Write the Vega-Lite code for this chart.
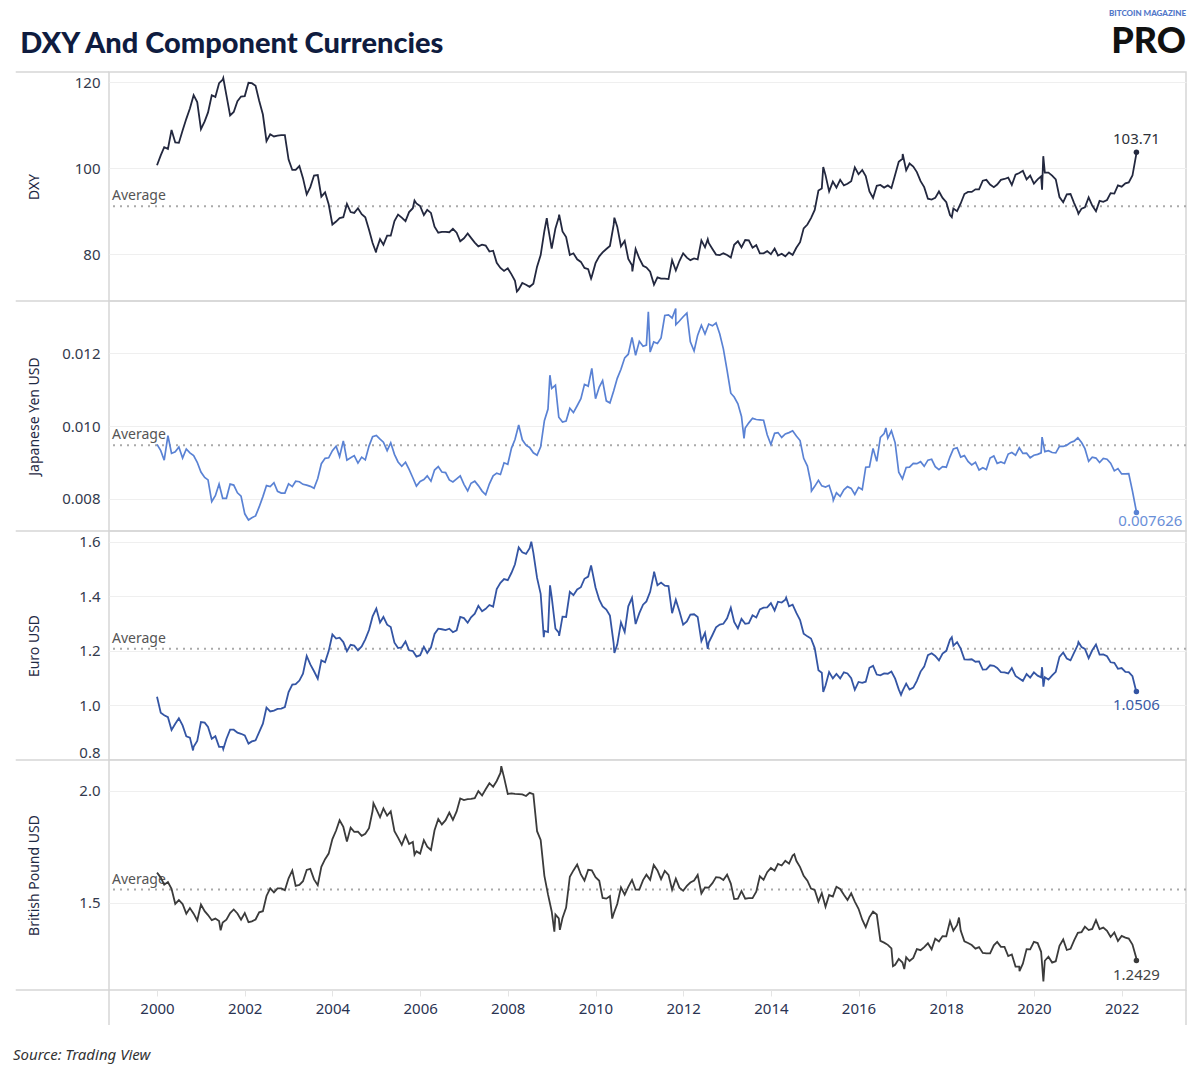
{
  "$schema": "https://vega.github.io/schema/vega-lite/v6.json",
  "background": "white",
  "padding": {"left": 12, "top": 9, "right": 15, "bottom": 10},
  "title": {"text": "DXY And Component Currencies", "anchor": "start", "frame": "bounds", "font": "Lato", "fontSize": 29, "fontWeight": 900, "color": "#0f1c3f", "dx": 8, "dy": 59, "offset": 10},
  "config": {
    "view": {"stroke": "#d6d6d6", "strokeWidth": 1.5},
    "axis": {"labelFont": "Noto Sans", "labelFontSize": 15, "labelColor": "#333a4d", "titleFont": "Noto Sans", "titleFontSize": 14, "titleFontWeight": "normal", "titleColor": "#1f2a44", "gridColor": "#efefef", "gridWidth": 1, "domain": false, "ticks": false},
    "text": {"font": "Noto Sans"}
  },
  "datasets": {
    "dxy": [
      {"d":"2000-01","v":100.7},{"d":"2000-02","v":103.0},{"d":"2000-03","v":104.9},{"d":"2000-04","v":104.5},{"d":"2000-05","v":108.9},{"d":"2000-06","v":106.0},{"d":"2000-07","v":105.9},{"d":"2000-08","v":108.8},{"d":"2000-09","v":111.5},{"d":"2000-10","v":113.9},{"d":"2000-11","v":117.0},{"d":"2000-12","v":115.4},
      {"d":"2001-01","v":109.1},{"d":"2001-02","v":110.9},{"d":"2001-03","v":113.0},{"d":"2001-04","v":117.0},{"d":"2001-05","v":116.6},{"d":"2001-06","v":119.8},{"d":"2001-07","v":120.6},{"d":"2001-07-06","v":121.0},{"d":"2001-08","v":117.0},{"d":"2001-09","v":112.3},{"d":"2001-10","v":113.1},{"d":"2001-11","v":115.6},{"d":"2001-12","v":116.7},
      {"d":"2002-01","v":116.8},{"d":"2002-02","v":119.9},{"d":"2002-03","v":119.8},{"d":"2002-04","v":119.2},{"d":"2002-05","v":115.7},{"d":"2002-06","v":112.5},{"d":"2002-07","v":106.3},{"d":"2002-08","v":107.9},{"d":"2002-09","v":107.4},{"d":"2002-10","v":107.6},{"d":"2002-11","v":107.7},{"d":"2002-12","v":107.7},
      {"d":"2003-01","v":102.0},{"d":"2003-02","v":99.6},{"d":"2003-03","v":99.6},{"d":"2003-04","v":100.5},{"d":"2003-05","v":97.7},{"d":"2003-06","v":93.9},{"d":"2003-07","v":95.6},{"d":"2003-08","v":98.3},{"d":"2003-09","v":98.4},{"d":"2003-10","v":93.4},{"d":"2003-11","v":94.4},{"d":"2003-12","v":91.6},
      {"d":"2004-01","v":86.9},{"d":"2004-02","v":87.6},{"d":"2004-03","v":88.4},{"d":"2004-04","v":88.6},{"d":"2004-05","v":91.7},{"d":"2004-06","v":89.8},{"d":"2004-07","v":89.6},{"d":"2004-08","v":90.7},{"d":"2004-09","v":89.3},{"d":"2004-10","v":88.6},{"d":"2004-11","v":85.7},{"d":"2004-12","v":82.6},{"d":"2004-12-30","v":80.4},
      {"d":"2005-01","v":80.9},{"d":"2005-02","v":83.5},{"d":"2005-03","v":82.2},{"d":"2005-04","v":84.3},{"d":"2005-05","v":84.3},{"d":"2005-06","v":87.7},{"d":"2005-07","v":89.2},{"d":"2005-08","v":88.5},{"d":"2005-09","v":87.7},{"d":"2005-10","v":89.8},{"d":"2005-11","v":90.7},{"d":"2005-11-15","v":92.5},{"d":"2005-12","v":91.8},
      {"d":"2006-01","v":91.2},{"d":"2006-02","v":89.1},{"d":"2006-03","v":90.3},{"d":"2006-04","v":89.6},{"d":"2006-05","v":86.4},{"d":"2006-06","v":85.0},{"d":"2006-07","v":85.2},{"d":"2006-08","v":85.2},{"d":"2006-09","v":85.1},{"d":"2006-10","v":85.9},{"d":"2006-11","v":85.0},{"d":"2006-12","v":83.0},
      {"d":"2007-01","v":83.7},{"d":"2007-02","v":84.8},{"d":"2007-03","v":83.8},{"d":"2007-04","v":82.7},{"d":"2007-05","v":81.8},{"d":"2007-06","v":82.2},{"d":"2007-07","v":82.0},{"d":"2007-08","v":80.6},{"d":"2007-09","v":80.8},{"d":"2007-10","v":78.0},{"d":"2007-11","v":76.8},{"d":"2007-12","v":76.1},
      {"d":"2008-01","v":76.7},{"d":"2008-02","v":75.3},{"d":"2008-03","v":73.8},{"d":"2008-03-17","v":71.3},{"d":"2008-04","v":71.8},{"d":"2008-05","v":73.3},{"d":"2008-06","v":72.9},{"d":"2008-07","v":72.4},{"d":"2008-08","v":73.1},{"d":"2008-09","v":77.1},{"d":"2008-10","v":79.8},{"d":"2008-11","v":85.4},{"d":"2008-11-21","v":88.4},{"d":"2008-12","v":86.4},
      {"d":"2009-01","v":81.3},{"d":"2009-02","v":86.0},{"d":"2009-03","v":88.6},{"d":"2009-03-04","v":89.2},{"d":"2009-04","v":85.3},{"d":"2009-05","v":84.0},{"d":"2009-06","v":79.8},{"d":"2009-07","v":80.2},{"d":"2009-08","v":78.8},{"d":"2009-09","v":78.2},{"d":"2009-10","v":76.8},{"d":"2009-11","v":76.5},{"d":"2009-11-25","v":74.3},{"d":"2009-12","v":74.8},
      {"d":"2010-01","v":77.9},{"d":"2010-02","v":79.5},{"d":"2010-03","v":80.4},{"d":"2010-04","v":81.2},{"d":"2010-05","v":81.9},{"d":"2010-06","v":86.8},{"d":"2010-06-07","v":88.5},{"d":"2010-07","v":86.4},{"d":"2010-08","v":81.8},{"d":"2010-09","v":83.1},{"d":"2010-10","v":78.9},{"d":"2010-11","v":77.4},{"d":"2010-11-04","v":76.0},{"d":"2010-12","v":81.2},
      {"d":"2011-01","v":79.0},{"d":"2011-02","v":77.3},{"d":"2011-03","v":76.9},{"d":"2011-04","v":75.9},{"d":"2011-05","v":73.1},{"d":"2011-05-03","v":72.9},{"d":"2011-06","v":74.6},{"d":"2011-07","v":74.3},{"d":"2011-08","v":74.3},{"d":"2011-09","v":74.2},{"d":"2011-10","v":78.6},{"d":"2011-11","v":76.2},{"d":"2011-12","v":78.4},
      {"d":"2012-01","v":80.2},{"d":"2012-02","v":79.2},{"d":"2012-03","v":78.6},{"d":"2012-04","v":79.0},{"d":"2012-05","v":78.8},{"d":"2012-06","v":83.2},{"d":"2012-07","v":81.6},{"d":"2012-07-24","v":83.5},{"d":"2012-08","v":82.6},{"d":"2012-09","v":81.2},{"d":"2012-10","v":79.9},{"d":"2012-11","v":79.8},{"d":"2012-12","v":80.2},
      {"d":"2013-01","v":79.8},{"d":"2013-02","v":79.2},{"d":"2013-03","v":82.2},{"d":"2013-04","v":83.0},{"d":"2013-05","v":81.6},{"d":"2013-06","v":83.3},{"d":"2013-07","v":83.2},{"d":"2013-08","v":81.5},{"d":"2013-09","v":82.1},{"d":"2013-10","v":80.2},{"d":"2013-11","v":80.2},{"d":"2013-12","v":80.7},
      {"d":"2014-01","v":80.0},{"d":"2014-02","v":81.3},{"d":"2014-03","v":79.7},{"d":"2014-04","v":80.1},{"d":"2014-05","v":79.5},{"d":"2014-06","v":80.4},{"d":"2014-07","v":79.8},{"d":"2014-08","v":81.5},{"d":"2014-09","v":82.8},{"d":"2014-10","v":86.0},{"d":"2014-11","v":86.9},{"d":"2014-12","v":88.4},
      {"d":"2015-01","v":90.3},{"d":"2015-02","v":94.8},{"d":"2015-03","v":95.3},{"d":"2015-03-13","v":100.3},{"d":"2015-04","v":98.4},{"d":"2015-05","v":94.6},{"d":"2015-06","v":96.9},{"d":"2015-07","v":95.5},{"d":"2015-08","v":97.3},{"d":"2015-09","v":96.0},{"d":"2015-10","v":96.4},{"d":"2015-11","v":97.0},{"d":"2015-12","v":100.2},
      {"d":"2016-01","v":98.6},{"d":"2016-02","v":99.6},{"d":"2016-03","v":98.2},{"d":"2016-04","v":94.6},{"d":"2016-05","v":93.1},{"d":"2016-06","v":95.9},{"d":"2016-07","v":96.1},{"d":"2016-08","v":95.5},{"d":"2016-09","v":96.0},{"d":"2016-10","v":95.4},{"d":"2016-11","v":98.5},{"d":"2016-12","v":101.5},
      {"d":"2017-01","v":102.2},{"d":"2017-01-03","v":103.3},{"d":"2017-02","v":99.5},{"d":"2017-03","v":101.1},{"d":"2017-04","v":100.4},{"d":"2017-05","v":99.1},{"d":"2017-06","v":97.0},{"d":"2017-07","v":95.6},{"d":"2017-08","v":92.9},{"d":"2017-09","v":92.7},{"d":"2017-10","v":93.1},{"d":"2017-11","v":94.6},{"d":"2017-12","v":93.1},
      {"d":"2018-01","v":92.1},{"d":"2018-02","v":89.1},{"d":"2018-02-16","v":88.6},{"d":"2018-03","v":90.6},{"d":"2018-04","v":90.0},{"d":"2018-05","v":91.8},{"d":"2018-06","v":94.0},{"d":"2018-07","v":94.5},{"d":"2018-08","v":94.5},{"d":"2018-09","v":95.1},{"d":"2018-10","v":95.1},{"d":"2018-11","v":97.1},{"d":"2018-12","v":97.3},
      {"d":"2019-01","v":96.2},{"d":"2019-02","v":95.6},{"d":"2019-03","v":96.2},{"d":"2019-04","v":97.3},{"d":"2019-05","v":97.5},{"d":"2019-06","v":97.8},{"d":"2019-07","v":96.1},{"d":"2019-08","v":98.5},{"d":"2019-09","v":98.9},{"d":"2019-10","v":99.4},{"d":"2019-11","v":97.4},{"d":"2019-12","v":98.3},
      {"d":"2020-01","v":96.4},{"d":"2020-02","v":97.4},{"d":"2020-03","v":98.1},{"d":"2020-03-09","v":95.0},{"d":"2020-03-19","v":102.8},{"d":"2020-04","v":99.0},{"d":"2020-05","v":99.0},{"d":"2020-06","v":98.3},{"d":"2020-07","v":97.4},{"d":"2020-08","v":93.3},{"d":"2020-09","v":92.1},{"d":"2020-10","v":93.9},{"d":"2020-11","v":94.0},{"d":"2020-12","v":91.9},
      {"d":"2021-01","v":89.9},{"d":"2021-01-06","v":89.4},{"d":"2021-02","v":90.6},{"d":"2021-03","v":90.9},{"d":"2021-04","v":93.2},{"d":"2021-05","v":91.3},{"d":"2021-06","v":90.0},{"d":"2021-07","v":92.4},{"d":"2021-08","v":92.2},{"d":"2021-09","v":92.6},{"d":"2021-10","v":94.2},{"d":"2021-11","v":94.1},{"d":"2021-12","v":96.0},
      {"d":"2022-01","v":95.7},{"d":"2022-02","v":96.5},{"d":"2022-03","v":96.7},{"d":"2022-04","v":98.3},{"d":"2022-05","v":103.0},{"d":"2022-05-04","v":103.71}
    ],
    "jpy": [
      {"d":"2000-01","v":0.009500},{"d":"2000-02","v":0.009328},{"d":"2000-03","v":0.009066},{"d":"2000-04","v":0.009737},{"d":"2000-05","v":0.009251},{"d":"2000-06","v":0.009294},{"d":"2000-07","v":0.009425},{"d":"2000-08","v":0.009124},{"d":"2000-09","v":0.009372},{"d":"2000-10","v":0.009268},{"d":"2000-11","v":0.009191},{"d":"2000-12","v":0.009009},
      {"d":"2001-01","v":0.008741},{"d":"2001-02","v":0.008591},{"d":"2001-03","v":0.008525},{"d":"2001-04","v":0.007930},{"d":"2001-05","v":0.008091},{"d":"2001-06","v":0.008410},{"d":"2001-07","v":0.008019},{"d":"2001-08","v":0.008019},{"d":"2001-09","v":0.008410},{"d":"2001-10","v":0.008382},{"d":"2001-11","v":0.008170},{"d":"2001-12","v":0.008078},
      {"d":"2002-01","v":0.007593},{"d":"2002-02","v":0.007424},{"d":"2002-03","v":0.007485},{"d":"2002-04","v":0.007536},{"d":"2002-05","v":0.007782},{"d":"2002-06","v":0.008065},{"d":"2002-07","v":0.008368},{"d":"2002-08","v":0.008340},{"d":"2002-09","v":0.008446},{"d":"2002-10","v":0.008210},{"d":"2002-11","v":0.008163},{"d":"2002-12","v":0.008163},
      {"d":"2003-01","v":0.008418},{"d":"2003-02","v":0.008340},{"d":"2003-03","v":0.008489},{"d":"2003-04","v":0.008475},{"d":"2003-05","v":0.008403},{"d":"2003-06","v":0.008382},{"d":"2003-07","v":0.008347},{"d":"2003-08","v":0.008292},{"d":"2003-09","v":0.008562},{"d":"2003-10","v":0.008969},{"d":"2003-11","v":0.009116},{"d":"2003-12","v":0.009132},
      {"d":"2004-01","v":0.009328},{"d":"2004-02","v":0.009452},{"d":"2004-03","v":0.009166},{"d":"2004-04","v":0.009597},{"d":"2004-05","v":0.009066},{"d":"2004-06","v":0.009132},{"d":"2004-07","v":0.009191},{"d":"2004-08","v":0.008985},{"d":"2004-09","v":0.009149},{"d":"2004-10","v":0.009074},{"d":"2004-11","v":0.009452},{"d":"2004-12","v":0.009709},
      {"d":"2005-01","v":0.009747},{"d":"2005-02","v":0.009643},{"d":"2005-03","v":0.009560},{"d":"2005-04","v":0.009328},{"d":"2005-05","v":0.009542},{"d":"2005-06","v":0.009225},{"d":"2005-07","v":0.009017},{"d":"2005-08","v":0.008897},{"d":"2005-09","v":0.009009},{"d":"2005-10","v":0.008811},{"d":"2005-11","v":0.008584},{"d":"2005-12","v":0.008354},
      {"d":"2006-01","v":0.008482},{"d":"2006-02","v":0.008532},{"d":"2006-03","v":0.008636},{"d":"2006-04","v":0.008489},{"d":"2006-05","v":0.008795},{"d":"2006-06","v":0.008889},{"d":"2006-07","v":0.008741},{"d":"2006-08","v":0.008726},{"d":"2006-09","v":0.008525},{"d":"2006-10","v":0.008467},{"d":"2006-11","v":0.008554},{"d":"2006-12","v":0.008636},
      {"d":"2007-01","v":0.008403},{"d":"2007-02","v":0.008224},{"d":"2007-03","v":0.008432},{"d":"2007-04","v":0.008489},{"d":"2007-05","v":0.008368},{"d":"2007-06","v":0.008217},{"d":"2007-07","v":0.008117},{"d":"2007-08","v":0.008418},{"d":"2007-09","v":0.008636},{"d":"2007-10","v":0.008711},{"d":"2007-11","v":0.008673},{"d":"2007-12","v":0.008993},
      {"d":"2008-01","v":0.008953},{"d":"2008-02","v":0.009398},{"d":"2008-03","v":0.009634},{"d":"2008-04","v":0.010030},{"d":"2008-05","v":0.009625},{"d":"2008-06","v":0.009479},{"d":"2008-07","v":0.009416},{"d":"2008-08","v":0.009268},{"d":"2008-09","v":0.009200},{"d":"2008-10","v":0.009434},{"d":"2008-11","v":0.010152},{"d":"2008-12","v":0.010471},{"d":"2008-12-17","v":0.011400},
      {"d":"2009-01","v":0.011038},{"d":"2009-02","v":0.011123},{"d":"2009-03","v":0.010246},{"d":"2009-04","v":0.010111},{"d":"2009-05","v":0.010142},{"d":"2009-06","v":0.010493},{"d":"2009-07","v":0.010373},{"d":"2009-08","v":0.010560},{"d":"2009-09","v":0.010753},{"d":"2009-10","v":0.011148},{"d":"2009-11","v":0.011099},{"d":"2009-12","v":0.011587},
      {"d":"2010-01","v":0.010753},{"d":"2010-02","v":0.011074},{"d":"2010-03","v":0.011249},{"d":"2010-04","v":0.010695},{"d":"2010-05","v":0.010638},{"d":"2010-06","v":0.010965},{"d":"2010-07","v":0.011312},{"d":"2010-08","v":0.011561},{"d":"2010-09","v":0.011876},{"d":"2010-10","v":0.011976},{"d":"2010-11","v":0.012438},{"d":"2010-12","v":0.011947},
      {"d":"2011-01","v":0.012330},{"d":"2011-02","v":0.012195},{"d":"2011-03","v":0.012225},{"d":"2011-03-17","v":0.013140},{"d":"2011-04","v":0.012034},{"d":"2011-05","v":0.012315},{"d":"2011-06","v":0.012270},{"d":"2011-07","v":0.012422},{"d":"2011-08","v":0.013038},{"d":"2011-09","v":0.013055},{"d":"2011-10","v":0.012970},{"d":"2011-10-31","v":0.013230},{"d":"2011-11","v":0.012788},{"d":"2011-12","v":0.012887},
      {"d":"2012-01","v":0.013004},{"d":"2012-02","v":0.013106},{"d":"2012-03","v":0.012315},{"d":"2012-04","v":0.012063},{"d":"2012-05","v":0.012500},{"d":"2012-06","v":0.012771},{"d":"2012-07","v":0.012531},{"d":"2012-08","v":0.012804},{"d":"2012-09","v":0.012755},{"d":"2012-10","v":0.012837},{"d":"2012-11","v":0.012531},{"d":"2012-12","v":0.012121},
      {"d":"2013-01","v":0.011534},{"d":"2013-02","v":0.010905},{"d":"2013-03","v":0.010799},{"d":"2013-04","v":0.010616},{"d":"2013-05","v":0.010267},{"d":"2013-05-22","v":0.009662},{"d":"2013-06","v":0.009950},{"d":"2013-07","v":0.010091},{"d":"2013-08","v":0.010215},{"d":"2013-09","v":0.010183},{"d":"2013-10","v":0.010173},{"d":"2013-11","v":0.010163},{"d":"2013-12","v":0.009766},
      {"d":"2014-01","v":0.009497},{"d":"2014-02","v":0.009804},{"d":"2014-03","v":0.009823},{"d":"2014-04","v":0.009690},{"d":"2014-05","v":0.009785},{"d":"2014-06","v":0.009823},{"d":"2014-07","v":0.009872},{"d":"2014-08","v":0.009728},{"d":"2014-09","v":0.009606},{"d":"2014-10","v":0.009116},{"d":"2014-11","v":0.008905},{"d":"2014-12","v":0.008425},{"d":"2014-12-05","v":0.008217},
      {"d":"2015-01","v":0.008347},{"d":"2015-02","v":0.008511},{"d":"2015-03","v":0.008361},{"d":"2015-04","v":0.008326},{"d":"2015-05","v":0.008375},{"d":"2015-06","v":0.008058},{"d":"2015-06-05","v":0.007962},{"d":"2015-07","v":0.008170},{"d":"2015-08","v":0.008071},{"d":"2015-09","v":0.008251},{"d":"2015-10","v":0.008340},{"d":"2015-11","v":0.008292},{"d":"2015-12","v":0.008123},
      {"d":"2016-01","v":0.008319},{"d":"2016-02","v":0.008258},{"d":"2016-03","v":0.008873},{"d":"2016-04","v":0.008881},{"d":"2016-05","v":0.009390},{"d":"2016-06","v":0.009033},{"d":"2016-07","v":0.009690},{"d":"2016-08","v":0.009794},{"d":"2016-08-16","v":0.009950},{"d":"2016-09","v":0.009671},{"d":"2016-10","v":0.009872},{"d":"2016-11","v":0.009542},{"d":"2016-12","v":0.008734},
      {"d":"2017-01","v":0.008554},{"d":"2017-02","v":0.008865},{"d":"2017-03","v":0.008873},{"d":"2017-04","v":0.008977},{"d":"2017-05","v":0.008969},{"d":"2017-06","v":0.009025},{"d":"2017-07","v":0.008897},{"d":"2017-08","v":0.009066},{"d":"2017-09","v":0.009091},{"d":"2017-10","v":0.008889},{"d":"2017-11","v":0.008803},{"d":"2017-12","v":0.008889},
      {"d":"2018-01","v":0.008873},{"d":"2018-02","v":0.009158},{"d":"2018-03","v":0.009372},{"d":"2018-04","v":0.009407},{"d":"2018-05","v":0.009149},{"d":"2018-06","v":0.009191},{"d":"2018-07","v":0.009033},{"d":"2018-08","v":0.008937},{"d":"2018-09","v":0.009009},{"d":"2018-10","v":0.008795},{"d":"2018-11","v":0.008857},{"d":"2018-12","v":0.008811},
      {"d":"2019-01","v":0.009124},{"d":"2019-02","v":0.009183},{"d":"2019-03","v":0.008977},{"d":"2019-04","v":0.009017},{"d":"2019-05","v":0.008977},{"d":"2019-06","v":0.009234},{"d":"2019-07","v":0.009276},{"d":"2019-08","v":0.009200},{"d":"2019-09","v":0.009407},{"d":"2019-10","v":0.009251},{"d":"2019-11","v":0.009259},{"d":"2019-12","v":0.009132},
      {"d":"2020-01","v":0.009200},{"d":"2020-02","v":0.009225},{"d":"2020-03","v":0.009268},{"d":"2020-03-09","v":0.009700},{"d":"2020-04","v":0.009302},{"d":"2020-05","v":0.009328},{"d":"2020-06","v":0.009276},{"d":"2020-07","v":0.009268},{"d":"2020-08","v":0.009443},{"d":"2020-09","v":0.009443},{"d":"2020-10","v":0.009479},{"d":"2020-11","v":0.009551},{"d":"2020-12","v":0.009588},
      {"d":"2021-01","v":0.009681},{"d":"2021-02","v":0.009551},{"d":"2021-03","v":0.009381},{"d":"2021-04","v":0.009033},{"d":"2021-05","v":0.009149},{"d":"2021-06","v":0.009124},{"d":"2021-07","v":0.009001},{"d":"2021-08","v":0.009116},{"d":"2021-09","v":0.009091},{"d":"2021-10","v":0.008985},{"d":"2021-11","v":0.008772},{"d":"2021-12","v":0.008834},
      {"d":"2022-01","v":0.008688},{"d":"2022-02","v":0.008688},{"d":"2022-03","v":0.008696},{"d":"2022-04","v":0.008217},{"d":"2022-05","v":0.007704},{"d":"2022-05-04","v":0.007626}
    ],
    "eur": [
      {"d":"2000-01","v":1.032},{"d":"2000-02","v":0.973},{"d":"2000-03","v":0.964},{"d":"2000-04","v":0.957},{"d":"2000-05","v":0.910},{"d":"2000-06","v":0.933},{"d":"2000-07","v":0.953},{"d":"2000-08","v":0.927},{"d":"2000-09","v":0.887},{"d":"2000-10","v":0.882},{"d":"2000-10-27","v":0.835},{"d":"2000-11","v":0.848},{"d":"2000-12","v":0.870},
      {"d":"2001-01","v":0.939},{"d":"2001-02","v":0.937},{"d":"2001-03","v":0.921},{"d":"2001-04","v":0.878},{"d":"2001-05","v":0.887},{"d":"2001-06","v":0.848},{"d":"2001-07","v":0.848},{"d":"2001-07-06","v":0.840},{"d":"2001-08","v":0.877},{"d":"2001-09","v":0.911},{"d":"2001-10","v":0.911},{"d":"2001-11","v":0.900},{"d":"2001-12","v":0.896},
      {"d":"2002-01","v":0.890},{"d":"2002-02","v":0.860},{"d":"2002-03","v":0.868},{"d":"2002-04","v":0.872},{"d":"2002-05","v":0.902},{"d":"2002-06","v":0.933},{"d":"2002-07","v":0.992},{"d":"2002-08","v":0.978},{"d":"2002-09","v":0.981},{"d":"2002-10","v":0.987},{"d":"2002-11","v":0.988},{"d":"2002-12","v":0.994},
      {"d":"2003-01","v":1.049},{"d":"2003-02","v":1.076},{"d":"2003-03","v":1.078},{"d":"2003-04","v":1.091},{"d":"2003-05","v":1.116},{"d":"2003-06","v":1.181},{"d":"2003-07","v":1.150},{"d":"2003-08","v":1.125},{"d":"2003-09","v":1.098},{"d":"2003-10","v":1.165},{"d":"2003-11","v":1.158},{"d":"2003-12","v":1.199},
      {"d":"2004-01","v":1.260},{"d":"2004-02","v":1.245},{"d":"2004-03","v":1.248},{"d":"2004-04","v":1.232},{"d":"2004-05","v":1.199},{"d":"2004-06","v":1.222},{"d":"2004-07","v":1.219},{"d":"2004-08","v":1.202},{"d":"2004-09","v":1.216},{"d":"2004-10","v":1.242},{"d":"2004-11","v":1.276},{"d":"2004-12","v":1.326},
      {"d":"2005-01","v":1.355},{"d":"2005-02","v":1.304},{"d":"2005-03","v":1.324},{"d":"2005-04","v":1.296},{"d":"2005-05","v":1.287},{"d":"2005-06","v":1.230},{"d":"2005-07","v":1.210},{"d":"2005-08","v":1.213},{"d":"2005-09","v":1.234},{"d":"2005-10","v":1.202},{"d":"2005-11","v":1.199},{"d":"2005-12","v":1.179},
      {"d":"2006-01","v":1.184},{"d":"2006-02","v":1.215},{"d":"2006-03","v":1.192},{"d":"2006-04","v":1.212},{"d":"2006-05","v":1.262},{"d":"2006-06","v":1.281},{"d":"2006-07","v":1.279},{"d":"2006-08","v":1.276},{"d":"2006-09","v":1.281},{"d":"2006-10","v":1.268},{"d":"2006-11","v":1.275},{"d":"2006-12","v":1.324},
      {"d":"2007-01","v":1.320},{"d":"2007-02","v":1.303},{"d":"2007-03","v":1.323},{"d":"2007-04","v":1.336},{"d":"2007-05","v":1.365},{"d":"2007-06","v":1.345},{"d":"2007-07","v":1.354},{"d":"2007-08","v":1.368},{"d":"2007-09","v":1.362},{"d":"2007-10","v":1.426},{"d":"2007-11","v":1.449},{"d":"2007-12","v":1.463},
      {"d":"2008-01","v":1.459},{"d":"2008-02","v":1.486},{"d":"2008-03","v":1.517},{"d":"2008-04","v":1.579},{"d":"2008-05","v":1.561},{"d":"2008-06","v":1.555},{"d":"2008-07","v":1.576},{"d":"2008-07-15","v":1.600},{"d":"2008-08","v":1.560},{"d":"2008-09","v":1.467},{"d":"2008-10","v":1.409},{"d":"2008-10-27","v":1.250},{"d":"2008-11","v":1.273},{"d":"2008-12","v":1.269},{"d":"2008-12-18","v":1.440},
      {"d":"2009-01","v":1.397},{"d":"2009-02","v":1.281},{"d":"2009-03","v":1.267},{"d":"2009-03-04","v":1.255},{"d":"2009-04","v":1.325},{"d":"2009-05","v":1.324},{"d":"2009-06","v":1.416},{"d":"2009-07","v":1.404},{"d":"2009-08","v":1.425},{"d":"2009-09","v":1.433},{"d":"2009-10","v":1.464},{"d":"2009-11","v":1.472},{"d":"2009-11-25","v":1.513},{"d":"2009-12","v":1.500},
      {"d":"2010-01","v":1.432},{"d":"2010-02","v":1.387},{"d":"2010-03","v":1.363},{"d":"2010-04","v":1.351},{"d":"2010-05","v":1.329},{"d":"2010-06","v":1.227},{"d":"2010-06-07","v":1.192},{"d":"2010-07","v":1.223},{"d":"2010-08","v":1.304},{"d":"2010-09","v":1.269},{"d":"2010-10","v":1.363},{"d":"2010-11","v":1.394},{"d":"2010-12","v":1.298},
      {"d":"2011-01","v":1.338},{"d":"2011-02","v":1.369},{"d":"2011-03","v":1.381},{"d":"2011-04","v":1.416},{"d":"2011-05","v":1.481},{"d":"2011-05-04","v":1.490},{"d":"2011-06","v":1.440},{"d":"2011-07","v":1.450},{"d":"2011-08","v":1.439},{"d":"2011-09","v":1.437},{"d":"2011-10","v":1.338},{"d":"2011-11","v":1.387},{"d":"2011-12","v":1.345},
      {"d":"2012-01","v":1.296},{"d":"2012-02","v":1.308},{"d":"2012-03","v":1.333},{"d":"2012-04","v":1.334},{"d":"2012-05","v":1.324},{"d":"2012-06","v":1.236},{"d":"2012-07","v":1.266},{"d":"2012-07-24","v":1.207},{"d":"2012-08","v":1.230},{"d":"2012-09","v":1.258},{"d":"2012-10","v":1.286},{"d":"2012-11","v":1.296},{"d":"2012-12","v":1.299},
      {"d":"2013-01","v":1.319},{"d":"2013-02","v":1.358},{"d":"2013-03","v":1.306},{"d":"2013-04","v":1.282},{"d":"2013-05","v":1.317},{"d":"2013-06","v":1.299},{"d":"2013-07","v":1.301},{"d":"2013-08","v":1.330},{"d":"2013-09","v":1.322},{"d":"2013-10","v":1.352},{"d":"2013-11","v":1.358},{"d":"2013-12","v":1.359},
      {"d":"2014-01","v":1.375},{"d":"2014-02","v":1.348},{"d":"2014-03","v":1.380},{"d":"2014-04","v":1.377},{"d":"2014-05","v":1.387},{"d":"2014-05-08","v":1.395},{"d":"2014-06","v":1.363},{"d":"2014-07","v":1.369},{"d":"2014-08","v":1.339},{"d":"2014-09","v":1.313},{"d":"2014-10","v":1.263},{"d":"2014-11","v":1.253},{"d":"2014-12","v":1.245},
      {"d":"2015-01","v":1.210},{"d":"2015-02","v":1.129},{"d":"2015-03","v":1.120},{"d":"2015-03-13","v":1.049},{"d":"2015-04","v":1.073},{"d":"2015-05","v":1.122},{"d":"2015-06","v":1.099},{"d":"2015-07","v":1.115},{"d":"2015-08","v":1.099},{"d":"2015-09","v":1.121},{"d":"2015-10","v":1.117},{"d":"2015-11","v":1.100},{"d":"2015-12","v":1.057},
      {"d":"2016-01","v":1.086},{"d":"2016-02","v":1.083},{"d":"2016-03","v":1.087},{"d":"2016-04","v":1.138},{"d":"2016-05","v":1.145},{"d":"2016-06","v":1.113},{"d":"2016-07","v":1.110},{"d":"2016-08","v":1.117},{"d":"2016-09","v":1.116},{"d":"2016-10","v":1.124},{"d":"2016-11","v":1.098},{"d":"2016-12","v":1.059},{"d":"2016-12-20","v":1.039},
      {"d":"2017-01","v":1.052},{"d":"2017-02","v":1.080},{"d":"2017-03","v":1.058},{"d":"2017-04","v":1.065},{"d":"2017-05","v":1.090},{"d":"2017-06","v":1.124},{"d":"2017-07","v":1.142},{"d":"2017-08","v":1.184},{"d":"2017-09","v":1.191},{"d":"2017-10","v":1.181},{"d":"2017-11","v":1.165},{"d":"2017-12","v":1.190},
      {"d":"2018-01","v":1.200},{"d":"2018-02","v":1.241},{"d":"2018-02-16","v":1.250},{"d":"2018-03","v":1.219},{"d":"2018-04","v":1.232},{"d":"2018-05","v":1.208},{"d":"2018-06","v":1.169},{"d":"2018-07","v":1.168},{"d":"2018-08","v":1.169},{"d":"2018-09","v":1.160},{"d":"2018-10","v":1.161},{"d":"2018-11","v":1.131},{"d":"2018-12","v":1.132},
      {"d":"2019-01","v":1.147},{"d":"2019-02","v":1.145},{"d":"2019-03","v":1.137},{"d":"2019-04","v":1.122},{"d":"2019-05","v":1.121},{"d":"2019-06","v":1.117},{"d":"2019-07","v":1.137},{"d":"2019-08","v":1.108},{"d":"2019-09","v":1.099},{"d":"2019-10","v":1.090},{"d":"2019-11","v":1.115},{"d":"2019-12","v":1.102},
      {"d":"2020-01","v":1.121},{"d":"2020-02","v":1.109},{"d":"2020-03","v":1.103},{"d":"2020-03-09","v":1.140},{"d":"2020-03-20","v":1.069},{"d":"2020-04","v":1.103},{"d":"2020-05","v":1.095},{"d":"2020-06","v":1.110},{"d":"2020-07","v":1.123},{"d":"2020-08","v":1.178},{"d":"2020-09","v":1.194},{"d":"2020-10","v":1.172},{"d":"2020-11","v":1.165},{"d":"2020-12","v":1.193},
      {"d":"2021-01","v":1.222},{"d":"2021-01-06","v":1.232},{"d":"2021-02","v":1.214},{"d":"2021-03","v":1.207},{"d":"2021-04","v":1.173},{"d":"2021-05","v":1.202},{"d":"2021-06","v":1.223},{"d":"2021-07","v":1.186},{"d":"2021-08","v":1.187},{"d":"2021-09","v":1.180},{"d":"2021-10","v":1.158},{"d":"2021-11","v":1.156},{"d":"2021-12","v":1.134},
      {"d":"2022-01","v":1.137},{"d":"2022-02","v":1.123},{"d":"2022-03","v":1.122},{"d":"2022-04","v":1.107},{"d":"2022-05","v":1.054},{"d":"2022-05-04","v":1.0506}
    ],
    "gbp": [
      {"d":"2000-01","v":1.635},{"d":"2000-02","v":1.613},{"d":"2000-03","v":1.581},{"d":"2000-04","v":1.593},{"d":"2000-05","v":1.563},{"d":"2000-06","v":1.496},{"d":"2000-07","v":1.513},{"d":"2000-08","v":1.495},{"d":"2000-09","v":1.452},{"d":"2000-10","v":1.477},{"d":"2000-11","v":1.452},{"d":"2000-12","v":1.422},
      {"d":"2001-01","v":1.493},{"d":"2001-02","v":1.463},{"d":"2001-03","v":1.446},{"d":"2001-04","v":1.423},{"d":"2001-05","v":1.430},{"d":"2001-06","v":1.419},{"d":"2001-06-14","v":1.378},{"d":"2001-07","v":1.413},{"d":"2001-08","v":1.425},{"d":"2001-09","v":1.455},{"d":"2001-10","v":1.471},{"d":"2001-11","v":1.453},{"d":"2001-12","v":1.425},
      {"d":"2002-01","v":1.455},{"d":"2002-02","v":1.414},{"d":"2002-03","v":1.418},{"d":"2002-04","v":1.426},{"d":"2002-05","v":1.458},{"d":"2002-06","v":1.463},{"d":"2002-07","v":1.531},{"d":"2002-08","v":1.565},{"d":"2002-09","v":1.547},{"d":"2002-10","v":1.565},{"d":"2002-11","v":1.565},{"d":"2002-12","v":1.557},
      {"d":"2003-01","v":1.610},{"d":"2003-02","v":1.645},{"d":"2003-03","v":1.576},{"d":"2003-04","v":1.580},{"d":"2003-05","v":1.597},{"d":"2003-06","v":1.647},{"d":"2003-07","v":1.652},{"d":"2003-08","v":1.605},{"d":"2003-09","v":1.579},{"d":"2003-10","v":1.661},{"d":"2003-11","v":1.695},{"d":"2003-12","v":1.720},
      {"d":"2004-01","v":1.785},{"d":"2004-02","v":1.823},{"d":"2004-03","v":1.869},{"d":"2004-04","v":1.839},{"d":"2004-05","v":1.774},{"d":"2004-06","v":1.836},{"d":"2004-07","v":1.817},{"d":"2004-08","v":1.818},{"d":"2004-09","v":1.799},{"d":"2004-10","v":1.808},{"d":"2004-11","v":1.833},{"d":"2004-12","v":1.911},{"d":"2004-12-08","v":1.945},
      {"d":"2005-01","v":1.918},{"d":"2005-02","v":1.882},{"d":"2005-03","v":1.921},{"d":"2005-04","v":1.889},{"d":"2005-05","v":1.909},{"d":"2005-06","v":1.820},{"d":"2005-07","v":1.791},{"d":"2005-08","v":1.759},{"d":"2005-09","v":1.801},{"d":"2005-10","v":1.763},{"d":"2005-11","v":1.772},{"d":"2005-11-15","v":1.715},{"d":"2005-12","v":1.730},
      {"d":"2006-01","v":1.720},{"d":"2006-02","v":1.780},{"d":"2006-03","v":1.751},{"d":"2006-04","v":1.736},{"d":"2006-05","v":1.824},{"d":"2006-06","v":1.874},{"d":"2006-07","v":1.850},{"d":"2006-08","v":1.869},{"d":"2006-09","v":1.903},{"d":"2006-10","v":1.870},{"d":"2006-11","v":1.908},{"d":"2006-12","v":1.966},
      {"d":"2007-01","v":1.959},{"d":"2007-02","v":1.963},{"d":"2007-03","v":1.964},{"d":"2007-04","v":1.967},{"d":"2007-05","v":1.999},{"d":"2007-06","v":1.979},{"d":"2007-07","v":2.007},{"d":"2007-08","v":2.034},{"d":"2007-09","v":2.018},{"d":"2007-10","v":2.044},{"d":"2007-11","v":2.080},{"d":"2007-11-08","v":2.110},{"d":"2007-12","v":2.060},
      {"d":"2008-01","v":1.986},{"d":"2008-02","v":1.989},{"d":"2008-03","v":1.986},{"d":"2008-04","v":1.985},{"d":"2008-05","v":1.984},{"d":"2008-06","v":1.977},{"d":"2008-07","v":1.991},{"d":"2008-08","v":1.985},{"d":"2008-09","v":1.820},{"d":"2008-10","v":1.781},{"d":"2008-11","v":1.621},{"d":"2008-12","v":1.538},
      {"d":"2009-01","v":1.462},{"d":"2009-01-23","v":1.372},{"d":"2009-02","v":1.448},{"d":"2009-03","v":1.431},{"d":"2009-03-10","v":1.380},{"d":"2009-04","v":1.433},{"d":"2009-05","v":1.479},{"d":"2009-06","v":1.617},{"d":"2009-07","v":1.645},{"d":"2009-08","v":1.671},{"d":"2009-09","v":1.627},{"d":"2009-10","v":1.600},{"d":"2009-11","v":1.648},{"d":"2009-12","v":1.645},
      {"d":"2010-01","v":1.615},{"d":"2010-02","v":1.599},{"d":"2010-03","v":1.522},{"d":"2010-04","v":1.519},{"d":"2010-05","v":1.530},{"d":"2010-05-20","v":1.430},{"d":"2010-06","v":1.452},{"d":"2010-07","v":1.495},{"d":"2010-08","v":1.569},{"d":"2010-09","v":1.537},{"d":"2010-10","v":1.572},{"d":"2010-11","v":1.603},{"d":"2010-12","v":1.559},
      {"d":"2011-01","v":1.559},{"d":"2011-02","v":1.602},{"d":"2011-03","v":1.626},{"d":"2011-04","v":1.603},{"d":"2011-05","v":1.669},{"d":"2011-06","v":1.645},{"d":"2011-07","v":1.606},{"d":"2011-08","v":1.643},{"d":"2011-09","v":1.625},{"d":"2011-10","v":1.559},{"d":"2011-11","v":1.608},{"d":"2011-12","v":1.568},
      {"d":"2012-01","v":1.554},{"d":"2012-02","v":1.576},{"d":"2012-03","v":1.591},{"d":"2012-04","v":1.600},{"d":"2012-05","v":1.625},{"d":"2012-06","v":1.542},{"d":"2012-07","v":1.569},{"d":"2012-08","v":1.568},{"d":"2012-09","v":1.588},{"d":"2012-10","v":1.615},{"d":"2012-11","v":1.613},{"d":"2012-12","v":1.602},
      {"d":"2013-01","v":1.626},{"d":"2013-02","v":1.586},{"d":"2013-03","v":1.517},{"d":"2013-04","v":1.519},{"d":"2013-05","v":1.553},{"d":"2013-06","v":1.519},{"d":"2013-07","v":1.521},{"d":"2013-08","v":1.521},{"d":"2013-09","v":1.550},{"d":"2013-10","v":1.619},{"d":"2013-11","v":1.603},{"d":"2013-12","v":1.637},
      {"d":"2014-01","v":1.656},{"d":"2014-02","v":1.644},{"d":"2014-03","v":1.674},{"d":"2014-04","v":1.667},{"d":"2014-05","v":1.688},{"d":"2014-06","v":1.675},{"d":"2014-07","v":1.711},{"d":"2014-07-15","v":1.717},{"d":"2014-08","v":1.688},{"d":"2014-09","v":1.660},{"d":"2014-10","v":1.621},{"d":"2014-11","v":1.599},{"d":"2014-12","v":1.564},
      {"d":"2015-01","v":1.558},{"d":"2015-02","v":1.506},{"d":"2015-03","v":1.544},{"d":"2015-04","v":1.483},{"d":"2015-05","v":1.535},{"d":"2015-06","v":1.528},{"d":"2015-07","v":1.572},{"d":"2015-08","v":1.562},{"d":"2015-09","v":1.536},{"d":"2015-10","v":1.513},{"d":"2015-11","v":1.543},{"d":"2015-12","v":1.506},
      {"d":"2016-01","v":1.474},{"d":"2016-02","v":1.425},{"d":"2016-03","v":1.392},{"d":"2016-04","v":1.437},{"d":"2016-05","v":1.461},{"d":"2016-06","v":1.448},{"d":"2016-07","v":1.331},{"d":"2016-08","v":1.323},{"d":"2016-09","v":1.313},{"d":"2016-10","v":1.297},{"d":"2016-10-14","v":1.218},{"d":"2016-11","v":1.224},{"d":"2016-12","v":1.250},
      {"d":"2017-01","v":1.234},{"d":"2017-01-16","v":1.205},{"d":"2017-02","v":1.258},{"d":"2017-03","v":1.241},{"d":"2017-04","v":1.255},{"d":"2017-05","v":1.294},{"d":"2017-06","v":1.289},{"d":"2017-07","v":1.303},{"d":"2017-08","v":1.320},{"d":"2017-09","v":1.293},{"d":"2017-10","v":1.340},{"d":"2017-11","v":1.328},{"d":"2017-12","v":1.352},
      {"d":"2018-01","v":1.351},{"d":"2018-02","v":1.419},{"d":"2018-03","v":1.376},{"d":"2018-04","v":1.402},{"d":"2018-04-17","v":1.435},{"d":"2018-05","v":1.377},{"d":"2018-06","v":1.329},{"d":"2018-07","v":1.321},{"d":"2018-08","v":1.312},{"d":"2018-09","v":1.296},{"d":"2018-10","v":1.303},{"d":"2018-11","v":1.277},{"d":"2018-12","v":1.275},
      {"d":"2019-01","v":1.275},{"d":"2019-02","v":1.311},{"d":"2019-03","v":1.326},{"d":"2019-04","v":1.304},{"d":"2019-05","v":1.304},{"d":"2019-06","v":1.263},{"d":"2019-07","v":1.270},{"d":"2019-08","v":1.216},{"d":"2019-09","v":1.216},{"d":"2019-09-03","v":1.196},{"d":"2019-10","v":1.229},{"d":"2019-11","v":1.294},{"d":"2019-12","v":1.293},
      {"d":"2020-01","v":1.326},{"d":"2020-02","v":1.321},{"d":"2020-03","v":1.282},{"d":"2020-03-20","v":1.150},{"d":"2020-04","v":1.242},{"d":"2020-05","v":1.260},{"d":"2020-06","v":1.234},{"d":"2020-07","v":1.240},{"d":"2020-08","v":1.309},{"d":"2020-09","v":1.337},{"d":"2020-10","v":1.290},{"d":"2020-11","v":1.295},{"d":"2020-12","v":1.333},
      {"d":"2021-01","v":1.367},{"d":"2021-02","v":1.370},{"d":"2021-03","v":1.394},{"d":"2021-04","v":1.379},{"d":"2021-05","v":1.384},{"d":"2021-06","v":1.423},{"d":"2021-07","v":1.383},{"d":"2021-08","v":1.390},{"d":"2021-09","v":1.376},{"d":"2021-10","v":1.348},{"d":"2021-11","v":1.368},{"d":"2021-12","v":1.330},
      {"d":"2022-01","v":1.353},{"d":"2022-02","v":1.345},{"d":"2022-03","v":1.341},{"d":"2022-04","v":1.314},{"d":"2022-05","v":1.2575},{"d":"2022-05-04","v":1.2429}
    ]
  },
  "vconcat": [
    {
      "width": 1077, "height": 229,
      "title": {"text": "BITCOIN MAGAZINE", "subtitle": "PRO", "anchor": "end", "frame": "group", "font": "Lato", "fontSize": 8, "fontWeight": 900, "color": "#5277c9", "subtitleFont": "Lato", "subtitleFontSize": 36, "subtitleFontWeight": 900, "subtitleColor": "#111111", "subtitlePadding": 7, "offset": 11},
      "layer": [
        {"data": {"values": [{}]}, "mark": {"type": "rule", "stroke": "#d6d6d6", "strokeWidth": 1.5},
         "encoding": {"x": {"datum": {"year": 1996, "month": 10, "date": 11}, "type": "temporal", "scale": {"domain": [{"year": 1998, "month": 11, "date": 27}, {"year": 2023, "month": 6, "date": 21}]}, "axis": null},
                      "x2": {"datum": {"year": 1998, "month": 11, "date": 27}},
                      "y": {"datum": 122.4, "type": "quantitative", "scale": {"domain": [69.1, 122.4], "nice": false, "zero": false}}}},
        {"data": {"values": [{}]}, "mark": {"type": "rule", "stroke": "#aaaaaa", "strokeWidth": 2, "strokeDash": [2, 5]},
         "encoding": {"y": {"datum": 91.16, "type": "quantitative", "scale": {"domain": [69.1, 122.4], "nice": false, "zero": false}}}},
        {"data": {"values": [{}]}, "mark": {"type": "text", "align": "left", "baseline": "alphabetic", "dx": 3, "dy": -6, "fontSize": 14, "color": "#555555"},
         "encoding": {"x": {"datum": {"year": 1998, "month": 11, "date": 27}, "type": "temporal", "scale": {"domain": [{"year": 1998, "month": 11, "date": 27}, {"year": 2023, "month": 6, "date": 21}]}, "axis": null},
                      "y": {"datum": 91.16, "type": "quantitative", "scale": {"domain": [69.1, 122.4], "nice": false, "zero": false}},
                      "text": {"value": "Average"}}},
        {"data": {"name": "dxy"}, "mark": {"type": "line", "color": "#23283f", "strokeWidth": 1.8},
         "encoding": {"x": {"field": "d", "type": "temporal", "scale": {"domain": [{"year": 1998, "month": 11, "date": 27}, {"year": 2023, "month": 6, "date": 21}]}, "axis": null},
                      "y": {"field": "v", "type": "quantitative", "scale": {"domain": [69.1, 122.4], "nice": false, "zero": false},
                            "axis": {"title": "DXY", "values": [80, 100, 120], "format": "d", "labelPadding": 9, "titleX": -74.5, "titleBaseline": "middle", "grid": true}}}},
        {"data": {"name": "dxy"},
         "transform": [{"window": [{"op": "row_number", "as": "rn"}], "sort": [{"field": "d", "order": "descending"}]}, {"filter": "datum.rn == 1"}],
         "layer": [
           {"mark": {"type": "point", "filled": true, "size": 30, "color": "#23283f", "opacity": 1}},
           {"mark": {"type": "text", "align": "center", "baseline": "alphabetic", "dy": -8, "fontSize": 15, "color": "#2d3038"}, "encoding": {"text": {"field": "v", "type": "quantitative", "format": ".2f"}}}
         ],
         "encoding": {"x": {"field": "d", "type": "temporal", "scale": {"domain": [{"year": 1998, "month": 11, "date": 27}, {"year": 2023, "month": 6, "date": 21}]}, "axis": null},
                      "y": {"field": "v", "type": "quantitative", "scale": {"domain": [69.1, 122.4], "nice": false, "zero": false}}}}
      ]
    },
    {
      "width": 1077, "height": 230,
      "layer": [
        {"data": {"values": [{}]}, "mark": {"type": "rule", "stroke": "#d6d6d6", "strokeWidth": 1.5},
         "encoding": {"x": {"datum": {"year": 1996, "month": 10, "date": 11}, "type": "temporal", "scale": {"domain": [{"year": 1998, "month": 11, "date": 27}, {"year": 2023, "month": 6, "date": 21}]}, "axis": null},
                      "x2": {"datum": {"year": 1998, "month": 11, "date": 27}},
                      "y": {"datum": 0.013437, "type": "quantitative", "scale": {"domain": [0.007121, 0.013437], "nice": false, "zero": false}}}},
        {"data": {"values": [{}]}, "mark": {"type": "rule", "stroke": "#aaaaaa", "strokeWidth": 2, "strokeDash": [2, 5]},
         "encoding": {"y": {"datum": 0.009478, "type": "quantitative", "scale": {"domain": [0.007121, 0.013437], "nice": false, "zero": false}}}},
        {"data": {"values": [{}]}, "mark": {"type": "text", "align": "left", "baseline": "alphabetic", "dx": 3, "dy": -6, "fontSize": 14, "color": "#555555"},
         "encoding": {"x": {"datum": {"year": 1998, "month": 11, "date": 27}, "type": "temporal", "scale": {"domain": [{"year": 1998, "month": 11, "date": 27}, {"year": 2023, "month": 6, "date": 21}]}, "axis": null},
                      "y": {"datum": 0.009478, "type": "quantitative", "scale": {"domain": [0.007121, 0.013437], "nice": false, "zero": false}},
                      "text": {"value": "Average"}}},
        {"data": {"name": "jpy"}, "mark": {"type": "line", "color": "#5a82d4", "strokeWidth": 1.7},
         "encoding": {"x": {"field": "d", "type": "temporal", "scale": {"domain": [{"year": 1998, "month": 11, "date": 27}, {"year": 2023, "month": 6, "date": 21}]}, "axis": null},
                      "y": {"field": "v", "type": "quantitative", "scale": {"domain": [0.007121, 0.013437], "nice": false, "zero": false},
                            "axis": {"title": "Japanese Yen USD", "values": [0.008, 0.010, 0.012], "format": ".3f", "labelPadding": 9, "titleX": -74.5, "titleBaseline": "middle", "grid": true}}}},
        {"data": {"name": "jpy"},
         "transform": [{"window": [{"op": "row_number", "as": "rn"}], "sort": [{"field": "d", "order": "descending"}]}, {"filter": "datum.rn == 1"}],
         "layer": [
           {"mark": {"type": "point", "filled": true, "size": 30, "color": "#5a82d4", "opacity": 1}},
           {"mark": {"type": "text", "align": "right", "baseline": "alphabetic", "dx": 46, "dy": 13, "fontSize": 15, "color": "#6a8fd8"}, "encoding": {"text": {"field": "v", "type": "quantitative", "format": ".6f"}}}
         ],
         "encoding": {"x": {"field": "d", "type": "temporal", "scale": {"domain": [{"year": 1998, "month": 11, "date": 27}, {"year": 2023, "month": 6, "date": 21}]}, "axis": null},
                      "y": {"field": "v", "type": "quantitative", "scale": {"domain": [0.007121, 0.013437], "nice": false, "zero": false}}}}
      ]
    },
    {
      "width": 1077, "height": 229,
      "layer": [
        {"data": {"values": [{}]}, "mark": {"type": "rule", "stroke": "#d6d6d6", "strokeWidth": 1.5},
         "encoding": {"x": {"datum": {"year": 1996, "month": 10, "date": 11}, "type": "temporal", "scale": {"domain": [{"year": 1998, "month": 11, "date": 27}, {"year": 2023, "month": 6, "date": 21}]}, "axis": null},
                      "x2": {"datum": {"year": 1998, "month": 11, "date": 27}},
                      "y": {"datum": 1.639, "type": "quantitative", "scale": {"domain": [0.8, 1.639], "nice": false, "zero": false}}}},
        {"data": {"values": [{}]}, "mark": {"type": "rule", "stroke": "#aaaaaa", "strokeWidth": 2, "strokeDash": [2, 5]},
         "encoding": {"y": {"datum": 1.2073, "type": "quantitative", "scale": {"domain": [0.8, 1.639], "nice": false, "zero": false}}}},
        {"data": {"values": [{}]}, "mark": {"type": "text", "align": "left", "baseline": "alphabetic", "dx": 3, "dy": -6, "fontSize": 14, "color": "#555555"},
         "encoding": {"x": {"datum": {"year": 1998, "month": 11, "date": 27}, "type": "temporal", "scale": {"domain": [{"year": 1998, "month": 11, "date": 27}, {"year": 2023, "month": 6, "date": 21}]}, "axis": null},
                      "y": {"datum": 1.2073, "type": "quantitative", "scale": {"domain": [0.8, 1.639], "nice": false, "zero": false}},
                      "text": {"value": "Average"}}},
        {"data": {"name": "eur"}, "mark": {"type": "line", "color": "#3455a4", "strokeWidth": 1.8},
         "encoding": {"x": {"field": "d", "type": "temporal", "scale": {"domain": [{"year": 1998, "month": 11, "date": 27}, {"year": 2023, "month": 6, "date": 21}]}, "axis": null},
                      "y": {"field": "v", "type": "quantitative", "scale": {"domain": [0.8, 1.639], "nice": false, "zero": false},
                            "axis": {"title": "Euro USD", "values": [0.8, 1.0, 1.2, 1.4, 1.6], "format": ".1f", "labelPadding": 9, "labelFlush": true, "titleX": -74.5, "titleBaseline": "middle", "grid": true}}}},
        {"data": {"name": "eur"},
         "transform": [{"window": [{"op": "row_number", "as": "rn"}], "sort": [{"field": "d", "order": "descending"}]}, {"filter": "datum.rn == 1"}],
         "layer": [
           {"mark": {"type": "point", "filled": true, "size": 30, "color": "#3455a4", "opacity": 1}},
           {"mark": {"type": "text", "align": "center", "baseline": "alphabetic", "dy": 18, "fontSize": 15, "color": "#3a5aa5"}, "encoding": {"text": {"field": "v", "type": "quantitative", "format": ".4f"}}}
         ],
         "encoding": {"x": {"field": "d", "type": "temporal", "scale": {"domain": [{"year": 1998, "month": 11, "date": 27}, {"year": 2023, "month": 6, "date": 21}]}, "axis": null},
                      "y": {"field": "v", "type": "quantitative", "scale": {"domain": [0.8, 1.639], "nice": false, "zero": false}}}}
      ]
    },
    {
      "width": 1077, "height": 230,
      "title": {"text": "Source: Trading View", "orient": "bottom", "anchor": "start", "frame": "bounds", "font": "Noto Sans", "fontSize": 15, "fontStyle": "italic", "fontWeight": "normal", "color": "#333333", "offset": 22, "dx": -2},
      "layer": [
        {"data": {"values": [{"y": 2.1375}, {"y": 1.1116}]}, "mark": {"type": "rule", "stroke": "#d6d6d6", "strokeWidth": 1.5},
         "encoding": {"x": {"datum": {"year": 1996, "month": 10, "date": 11}, "type": "temporal", "scale": {"domain": [{"year": 1998, "month": 11, "date": 27}, {"year": 2023, "month": 6, "date": 21}]}},
                      "x2": {"datum": {"year": 1998, "month": 11, "date": 27}},
                      "y": {"field": "y", "type": "quantitative", "scale": {"domain": [1.1116, 2.1375], "nice": false, "zero": false}}}},
        {"data": {"values": [{}]}, "mark": {"type": "rule", "stroke": "#d6d6d6", "strokeWidth": 1.5},
         "encoding": {"x": {"datum": {"year": 1998, "month": 11, "date": 27}, "type": "temporal", "scale": {"domain": [{"year": 1998, "month": 11, "date": 27}, {"year": 2023, "month": 6, "date": 21}]}},
                      "y": {"datum": 1.1116, "type": "quantitative", "scale": {"domain": [1.1116, 2.1375], "nice": false, "zero": false}},
                      "y2": {"datum": 0.955}}},
        {"data": {"values": [{}]}, "mark": {"type": "rule", "stroke": "#d6d6d6", "strokeWidth": 1.5},
         "encoding": {"x": {"datum": {"year": 2023, "month": 6, "date": 21}, "type": "temporal", "scale": {"domain": [{"year": 1998, "month": 11, "date": 27}, {"year": 2023, "month": 6, "date": 21}]}},
                      "y": {"datum": 1.1116, "type": "quantitative", "scale": {"domain": [1.1116, 2.1375], "nice": false, "zero": false}},
                      "y2": {"datum": 0.955}}},
        {"data": {"values": [{}]}, "mark": {"type": "rule", "stroke": "#aaaaaa", "strokeWidth": 2, "strokeDash": [2, 5]},
         "encoding": {"y": {"datum": 1.5596, "type": "quantitative", "scale": {"domain": [1.1116, 2.1375], "nice": false, "zero": false}}}},
        {"data": {"values": [{}]}, "mark": {"type": "text", "align": "left", "baseline": "alphabetic", "dx": 3, "dy": -6, "fontSize": 14, "color": "#555555"},
         "encoding": {"x": {"datum": {"year": 1998, "month": 11, "date": 27}, "type": "temporal", "scale": {"domain": [{"year": 1998, "month": 11, "date": 27}, {"year": 2023, "month": 6, "date": 21}]}},
                      "y": {"datum": 1.5596, "type": "quantitative", "scale": {"domain": [1.1116, 2.1375], "nice": false, "zero": false}},
                      "text": {"value": "Average"}}},
        {"data": {"name": "gbp"}, "mark": {"type": "line", "color": "#3b3b3b", "strokeWidth": 1.8},
         "encoding": {"x": {"field": "d", "type": "temporal", "scale": {"domain": [{"year": 1998, "month": 11, "date": 27}, {"year": 2023, "month": 6, "date": 21}]},
                            "axis": {"title": null, "format": "%Y", "tickCount": {"interval": "year", "step": 2}, "labelColor": "#2a3352", "ticks": true, "tickColor": "#e4e4e4", "tickSize": 6, "labelPadding": 5, "grid": false}},
                      "y": {"field": "v", "type": "quantitative", "scale": {"domain": [1.1116, 2.1375], "nice": false, "zero": false},
                            "axis": {"title": "British Pound USD", "values": [1.5, 2.0], "format": ".1f", "labelPadding": 9, "titleX": -74.5, "titleBaseline": "middle", "grid": true}}}},
        {"data": {"name": "gbp"},
         "transform": [{"window": [{"op": "row_number", "as": "rn"}], "sort": [{"field": "d", "order": "descending"}]}, {"filter": "datum.rn == 1"}],
         "layer": [
           {"mark": {"type": "point", "filled": true, "size": 30, "color": "#3b3b3b", "opacity": 1}},
           {"mark": {"type": "text", "align": "center", "baseline": "alphabetic", "dy": 19, "fontSize": 15, "color": "#444444"}, "encoding": {"text": {"field": "v", "type": "quantitative", "format": ".4f"}}}
         ],
         "encoding": {"x": {"field": "d", "type": "temporal", "scale": {"domain": [{"year": 1998, "month": 11, "date": 27}, {"year": 2023, "month": 6, "date": 21}]}},
                      "y": {"field": "v", "type": "quantitative", "scale": {"domain": [1.1116, 2.1375], "nice": false, "zero": false}}}}
      ]
    }
  ],
  "spacing": 0,
  "bounds": "flush"
}
